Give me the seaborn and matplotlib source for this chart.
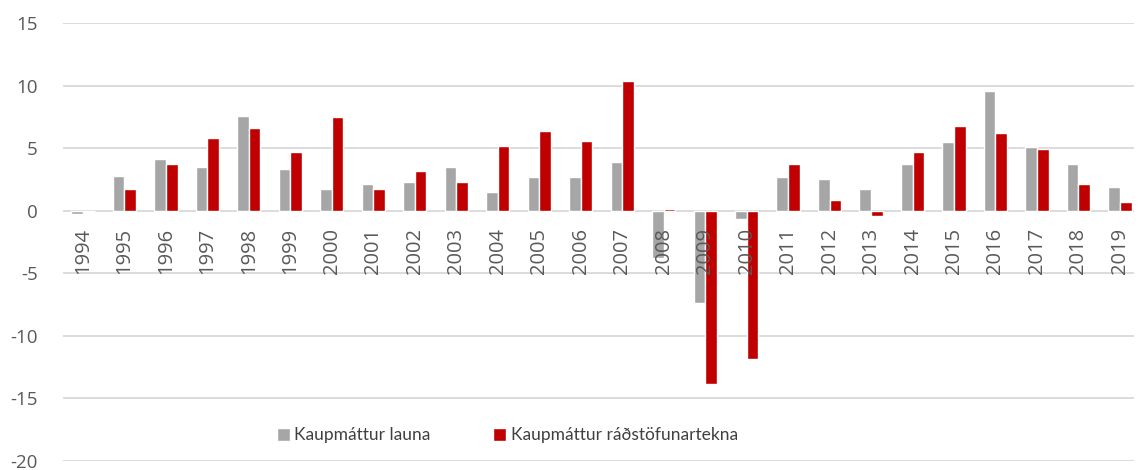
import numpy as np
import pandas as pd
import matplotlib.pyplot as plt
import matplotlib.transforms as mtransforms
import seaborn as sns

# Gögn lesin af myndinni
years = [str(y) for y in range(1994, 2020)]
launa = [-0.3, 2.8, 4.1, 3.5, 7.6, 3.3, 1.7, 2.1, 2.3, 3.5, 1.5, 2.7, 2.7, 3.9,
         -3.8, -7.4, -0.65, 2.7, 2.5, 1.7, 3.75, 5.5, 9.6, 5.1, 3.75, 1.85]
radstofun = [0.0, 1.7, 3.7, 5.8, 6.6, 4.7, 7.5, 1.7, 3.2, 2.3, 5.2, 6.4, 5.6, 10.4,
             0.1, -13.85, -11.9, 3.7, 0.85, -0.45, 4.7, 6.8, 6.2, 4.95, 2.1, 0.7]
series_names = ['Kaupmáttur launa', 'Kaupmáttur ráðstöfunartekna']
colors = ['#A6A6A6', '#C00000']

df = pd.DataFrame({'ár': years, series_names[0]: launa, series_names[1]: radstofun})
df_long = df.melt(id_vars='ár', var_name='röð', value_name='gildi')

sns.set_style('white')
plt.rcParams['font.family'] = ['Open Sans', 'DejaVu Sans']
plt.rcParams['axes.unicode_minus'] = False

fig = plt.figure(figsize=(11.39, 4.70), dpi=100)
ax = fig.add_axes([0.055, 0.02, 0.941, 0.931])

sns.barplot(data=df_long, x='ár', y='gildi', hue='röð', palette=colors,
            width=0.56, gap=0, saturation=1, ax=ax, legend=True)

ax.set_ylim(-20, 15)
ax.set_yticks(range(-20, 16, 5))
ax.set_xlim(-0.49, len(years) - 0.65)
ax.yaxis.grid(True, color='#D9D9D9', lw=1.3)
ax.set_axisbelow(True)
for s in ax.spines.values():
    s.set_visible(False)
ax.set_xlabel('')
ax.set_ylabel('')
ax.tick_params(axis='y', length=0, pad=18, labelsize=13.5, labelcolor='#595959')
ax.set_xticks([])

# ártöl rétt fyrir neðan núlllínuna
off = mtransforms.offset_copy(ax.transData, fig=fig, x=0, y=-17, units='dots')
for i, yr in enumerate(years):
    ax.text(i, 0, yr, rotation=90, ha='center', va='top', transform=off,
            fontsize=14.5, color='#595959')

handles, labels = ax.get_legend_handles_labels()
ax.legend(handles, labels, ncol=2, frameon=False, loc='center',
          bbox_to_anchor=(0.415, 0.058), columnspacing=3.6,
          handlelength=0.75, handleheight=0.75, handletextpad=0.25,
          prop={'family': 'Lato', 'size': 12.5}, labelcolor='#404040')

fig.savefig('out.png', dpi=100)
